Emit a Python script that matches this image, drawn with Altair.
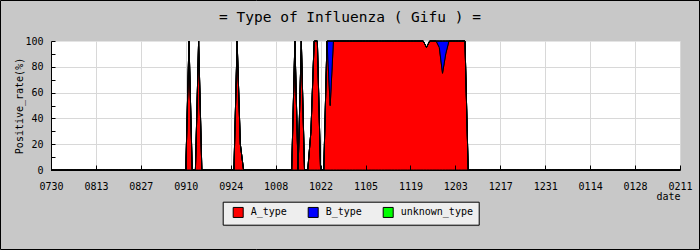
import altair as alt
import pandas as pd

# ---- data -------------------------------------------------------------
title_text = '= Type of Influenza ( Gifu ) ='
tick_labels = ['0730', '0813', '0827', '0910', '0924', '1008', '1022', '1105',
               '1119', '1203', '1217', '1231', '0114', '0128', '0211']
type_names = ['A_type', 'B_type', 'unknown_type']
type_colors = ['#ff0000', '#0000ff', '#00ff00']

# daily positive rate (%), one row = two weeks starting at the tick label
a_type = [
    0, 0, 0, 0, 0, 0, 0, 0, 0, 0, 0, 0, 0, 0,              # 0730
    0, 0, 0, 0, 0, 0, 0, 0, 0, 0, 0, 0, 0, 0,              # 0813
    0, 0, 0, 0, 0, 0, 0, 0, 0, 0, 0, 0, 0, 0,              # 0827
    0, 100, 0, 0, 100, 0, 0, 0, 0, 0, 0, 0, 0, 0,          # 0910
    0, 0, 100, 20, 0, 0, 0, 0, 0, 0, 0, 0, 0, 0,           # 0924
    0, 0, 0, 0, 0, 0, 100, 0, 100, 0, 0, 30, 100, 100,     # 1008
    0, 0, 100, 50, 100, 100, 100, 100, 100, 100, 100, 100, 100, 100,   # 1022
    100, 100, 100, 100, 100, 100, 100, 100, 100, 100, 100, 100, 100, 100,  # 1105
    100, 100, 100, 100, 100, 95, 100, 100, 100, 95, 75, 90, 100, 100,  # 1119
    100, 100, 100, 100, 0, 0, 0, 0, 0, 0, 0, 0, 0, 0,      # 1203
    0, 0, 0, 0, 0, 0, 0, 0, 0, 0, 0, 0, 0, 0,              # 1217
    0, 0, 0, 0, 0, 0, 0, 0, 0, 0, 0, 0, 0, 0,              # 1231
    0, 0, 0, 0, 0, 0, 0, 0, 0, 0, 0, 0, 0, 0,              # 0114
    0, 0, 0, 0, 0, 0, 0, 0, 0, 0, 0, 0, 0, 0,              # 0128
    0,                                                      # 0211
]
b_type = [
    0, 0, 0, 0, 0, 0, 0, 0, 0, 0, 0, 0, 0, 0,
    0, 0, 0, 0, 0, 0, 0, 0, 0, 0, 0, 0, 0, 0,
    0, 0, 0, 0, 0, 0, 0, 0, 0, 0, 0, 0, 0, 0,
    0, 0, 0, 0, 0, 0, 0, 0, 0, 0, 0, 0, 0, 0,
    0, 0, 0, 0, 0, 0, 0, 0, 0, 0, 0, 0, 0, 0,
    0, 0, 0, 0, 0, 0, 0, 0, 0, 0, 0, 0, 0, 0,
    0, 0, 0, 50, 0, 0, 0, 0, 0, 0, 0, 0, 0, 0,
    0, 0, 0, 0, 0, 0, 0, 0, 0, 0, 0, 0, 0, 0,
    0, 0, 0, 0, 0, 0, 0, 0, 0, 5, 25, 10, 0, 0,
    0, 0, 0, 0, 0, 0, 0, 0, 0, 0, 0, 0, 0, 0,
    0, 0, 0, 0, 0, 0, 0, 0, 0, 0, 0, 0, 0, 0,
    0, 0, 0, 0, 0, 0, 0, 0, 0, 0, 0, 0, 0, 0,
    0, 0, 0, 0, 0, 0, 0, 0, 0, 0, 0, 0, 0, 0,
    0, 0, 0, 0, 0, 0, 0, 0, 0, 0, 0, 0, 0, 0,
    0,
]
unknown_type = [0] * len(a_type)

series = [a_type, b_type, unknown_type]
rows = []
for k, (name, vals) in enumerate(zip(type_names, series)):
    for d, v in enumerate(vals):
        rows.append({'day': d, 'rate': v, 'type': name, 'order': k})
df = pd.DataFrame(rows)

# ---- styling ----------------------------------------------------------
FONT = 'DejaVu Sans Mono'
W, H = 629, 129
n_days = len(a_type) - 1
tick_days = [14 * i for i in range(len(tick_labels))]
label_expr = '[' + ','.join("'%s'" % t for t in tick_labels) + '][round(datum.value / 14)]'

x_scale = alt.Scale(domain=[0, n_days], nice=False, zero=False)
y_scale = alt.Scale(domain=[0, 100], nice=False)

area = alt.Chart(df).mark_area(
    interpolate='linear', stroke='black', strokeWidth=1, opacity=1
).encode(
    x=alt.X('day:Q', scale=x_scale, axis=alt.Axis(
        values=tick_days, labelExpr=label_expr, grid=True, gridColor='#d8d8d8',
        ticks=False, domain=False, labelPadding=11, labelFont=FONT,
        labelFontSize=10, labelColor='black', labelFlush=False,
        labelOverlap=False, labelBound=False,
        title='date', titleFont=FONT, titleFontSize=10, titleFontWeight='normal',
        titleColor='black', titleX=W, titleY=21, titleAlign='right',
        titleBaseline='top')),
    y=alt.Y('rate:Q', stack='zero', scale=y_scale, axis=alt.Axis(
        values=[0, 20, 40, 60, 80, 100], grid=True,
        gridColor={'condition': {'test': 'datum.value >= 100', 'value': 'transparent'},
                   'value': '#d8d8d8'},
        ticks=False, domain=False, labelPadding=8, labelFont=FONT,
        labelFontSize=10, labelColor='black', labelFlush=False,
        labelOverlap=False, labelBound=False,
        title='Positive_rate(%)', titleFont=FONT, titleFontSize=10,
        titleFontWeight='normal', titleColor='black', titleX=-32, titleY=H / 2,
        titleAlign='center', titleBaseline='middle')),
    color=alt.Color('type:N', scale=alt.Scale(domain=type_names, range=type_colors),
                    legend=alt.Legend(
                        orient='none', legendX=171.7, legendY=160.7,
                        direction='horizontal', title=None, fillColor='#eeeeee',
                        strokeColor='black', padding=5, symbolType='square',
                        symbolSize=100, symbolStrokeColor='black',
                        symbolStrokeWidth=1, symbolOffset=5, symbolOpacity=1,
                        labelFont=FONT, labelFontSize=10, labelColor='black',
                        labelOffset=7, columnPadding=15, cornerRadius=0)),
    order=alt.Order('order:Q'),
)

ticks = alt.Chart(df).mark_point(opacity=0).encode(
    x=alt.X('day:Q', scale=x_scale, axis=alt.Axis(
        orient='top', offset=-H, values=tick_days, labels=False, ticks=True,
        tickSize=5, tickColor='black', domain=True, domainColor='black',
        grid=False, title=None, zindex=1)),
    y=alt.Y('rate:Q', scale=y_scale, axis=alt.Axis(
        orient='right', offset=-W, values=list(range(0, 101, 10)), labels=False,
        ticks=True, tickSize=4, tickColor='black', domain=True,
        domainColor='black', grid=False, title=None, zindex=1)),
)

frame_data = alt.Data(values=[{}])
border = alt.Chart(frame_data).mark_rect(
    fill='transparent', stroke='black', strokeWidth=1
).encode(x=alt.value(-50.5), x2=alt.value(648.5), y=alt.value(-40.5), y2=alt.value(208.5))

shadow = alt.Chart(frame_data).mark_rect(fill='#b0b0b0').encode(
    x=alt.value(174.7), x2=alt.value(428.7), y=alt.value(163.7), y2=alt.value(185.3))

title = alt.Chart(frame_data).mark_text(
    text=title_text, font=FONT, fontSize=14.5, color='black',
    align='center', baseline='alphabetic'
).encode(x=alt.value(299), y=alt.value(-19.5))

chart = alt.layer(shadow, area, ticks, border, title).resolve_axis(
    x='independent', y='independent'
).properties(
    width=W, height=H,
    padding={'left': 51, 'top': 41, 'right': 20, 'bottom': 80},
    autosize=alt.AutoSizeParams(type='none'),
).configure(
    background='#c8c8c8'
).configure_view(
    fill='white', stroke='transparent'
)

chart.save('out.html', embed_options={'renderer': 'svg', 'actions': False})
